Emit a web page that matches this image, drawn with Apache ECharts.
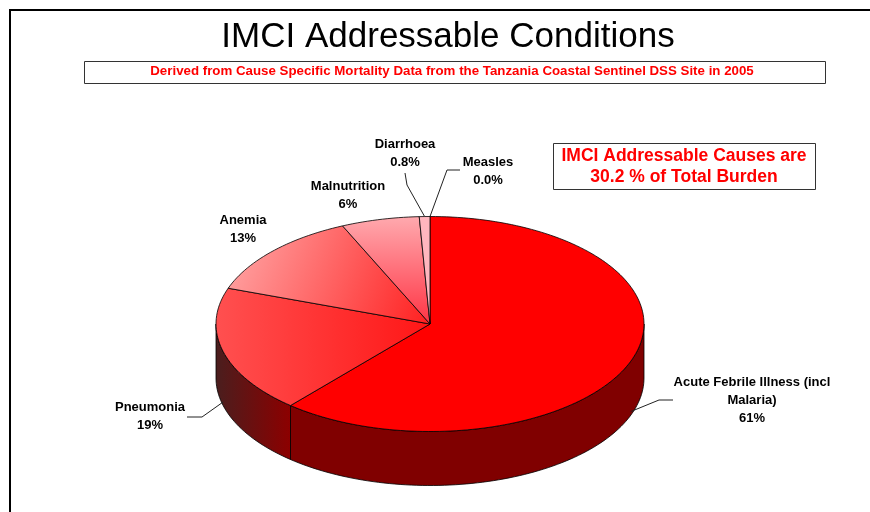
<!DOCTYPE html>
<html>
<head>
<meta charset="utf-8">
<script src="https://cdn.jsdelivr.net/npm/echarts@6/dist/echarts.min.js"></script>
<style>
  html, body { margin: 0; padding: 0; background: #fff; }
  #main { width: 870px; height: 512px; }
</style>
</head>
<body>
<div id="main"></div>
<script>
// IMCI addressable causes, share of deaths (%), clockwise from 12 o'clock
const causes = ['Acute Febrile Illness (incl\nMalaria)', 'Pneumonia', 'Anemia', 'Malnutrition', 'Diarrhoea', 'Measles'];
const shares = [61.3, 19.1, 12.9, 5.9, 0.8, 0.0];
const totalBurden = 30.2;

const FONT = '"Liberation Sans", Arial, sans-serif';

// pie geometry (px) - flattened 3d look
const CX = 430, CY = 324, RX = 214, RY = 107.5, DEPTH = 54;

const total = shares.reduce((a, b) => a + b, 0);
const starts = [];
shares.reduce((acc, v, i) => { starts[i] = acc; return acc + v; }, 0);

function grad(x, y, x2, y2, c0, c1) {
  return { type: 'linear', x: x, y: y, x2: x2, y2: y2, global: true,
    colorStops: [{ offset: 0, color: c0 }, { offset: 1, color: c1 }] };
}
const topFill = [
  '#FF0000',
  grad(216, 0, 430, 0, '#FF5050', '#FF1616'),
  grad(229, 240, 430, 324, '#FFA6A6', '#FF2020'),
  grad(0, 217, 0, 324, '#FFA9AE', '#FF3444'),
  '#FFB6BE',
  '#FFC0C8'
];
const sideFill = [
  '#800000',
  grad(216, 0, 290, 0, '#4A1E1E', '#8C0000'),
  '#B00000', '#B00000', '#B00000', '#B00000'
];

// label block centres and leader elbows
const labelAt = [[752, 400], [150, 416], [243, 229], [348, 195], [405, 153], [488, 171]];
const leader = [
  [[659, 400], [673, 400]],
  [[202, 417], [187, 417]],
  null,
  null,
  [[407, 185], [405, 173]],
  [[447, 170], [460, 170]]
];

function pt(deg, dy) {
  const r = deg * Math.PI / 180;
  return [CX + RX * Math.sin(r), CY - RY * Math.cos(r) + (dy || 0)];
}
function arc(a0, a1, dy) {
  const pts = [];
  const n = Math.max(2, Math.ceil(Math.abs(a1 - a0) / 1.5));
  for (let k = 0; k <= n; k++) pts.push(pt(a0 + (a1 - a0) * k / n, dy));
  return pts;
}
function angles(i, v) {
  const a0 = starts[i] / total * 360;
  return [a0, a0 + v / total * 360];
}
function fmt(v) {
  return v >= 1 ? Math.round(v) + '%' : v.toFixed(1) + '%';
}

const data = shares.map((v, i) => [i, v]);

let EChart = echarts.init(document.getElementById('main'));
let option = {
  backgroundColor: '#fff',
  animation: false,
  graphic: [
    // outer frame
    { type: 'rect', shape: { x: 10, y: 10, width: 900, height: 600 },
      style: { fill: null, stroke: '#000', lineWidth: 2 }, z: 1 },
    { type: 'text', style: { text: 'IMCI Addressable Conditions', x: 448, y: 37,
      align: 'center', verticalAlign: 'middle', font: 'normal 35px ' + FONT, fill: '#000' } },
    { type: 'rect', shape: { x: 84.5, y: 61.5, width: 741, height: 22 },
      style: { fill: '#fff', stroke: '#333', lineWidth: 1 } },
    { type: 'text', style: { text: 'Derived from Cause Specific Mortality Data from the Tanzania Coastal Sentinel DSS Site in 2005',
      x: 452, y: 71.5, align: 'center', verticalAlign: 'middle', font: 'bold 13.3px ' + FONT, fill: '#FF0000' } },
    { type: 'rect', shape: { x: 553.5, y: 143.5, width: 262, height: 46 },
      style: { fill: '#fff', stroke: '#333', lineWidth: 1 } },
    { type: 'text', style: { text: 'IMCI Addressable Causes are\n' + totalBurden.toFixed(1) + ' % of Total Burden',
      x: 684, y: 167, align: 'center', verticalAlign: 'middle', lineHeight: 21,
      font: 'bold 17.5px ' + FONT, fill: '#FF0000' } }
  ],
  series: [
    {
      // side walls
      type: 'custom',
      coordinateSystem: 'none',
      z: 2,
      data: data,
      renderItem(params, api) {
        const i = params.dataIndex;
        const [a0, a1] = angles(i, api.value(1));
        const s = Math.max(a0, 90), e = Math.min(a1, 270);
        if (!(e > s)) return { type: 'group', children: [] };
        const pts = arc(s, e, 0).concat(arc(e, s, DEPTH));
        return { type: 'polygon', shape: { points: pts },
          style: { fill: sideFill[i], stroke: '#000', lineWidth: 0.8 } };
      }
    },
    {
      // top faces
      type: 'custom',
      coordinateSystem: 'none',
      z: 3,
      data: data,
      renderItem(params, api) {
        const i = params.dataIndex;
        const [a0, a1] = angles(i, api.value(1));
        if (!(a1 > a0)) return { type: 'group', children: [] };
        const pts = [[CX, CY]].concat(arc(a0, a1, 0));
        return { type: 'polygon', shape: { points: pts },
          style: { fill: topFill[i], stroke: '#000', lineWidth: 0.8 } };
      }
    },
    {
      // data labels + leader lines
      type: 'custom',
      coordinateSystem: 'none',
      z: 4,
      data: data,
      renderItem(params, api) {
        const i = params.dataIndex;
        const v = api.value(1);
        const [a0, a1] = angles(i, v);
        const mid = (a0 + a1) / 2;
        const front = Math.cos(mid * Math.PI / 180) < 0;
        const children = [{
          type: 'text',
          style: { text: causes[i] + '\n' + fmt(v), x: labelAt[i][0], y: labelAt[i][1],
            align: 'center', verticalAlign: 'middle', lineHeight: 18,
            font: 'bold 13px ' + FONT, fill: '#000' }
        }];
        if (leader[i]) {
          const anchor = pt(mid, front ? DEPTH * 0.93 : 0);
          children.push({ type: 'polyline',
            shape: { points: [anchor].concat(leader[i]) },
            style: { fill: null, stroke: '#222', lineWidth: 1 } });
        }
        return { type: 'group', children: children };
      }
    }
  ]
};
EChart.setOption(option);
</script>
</body>
</html>
